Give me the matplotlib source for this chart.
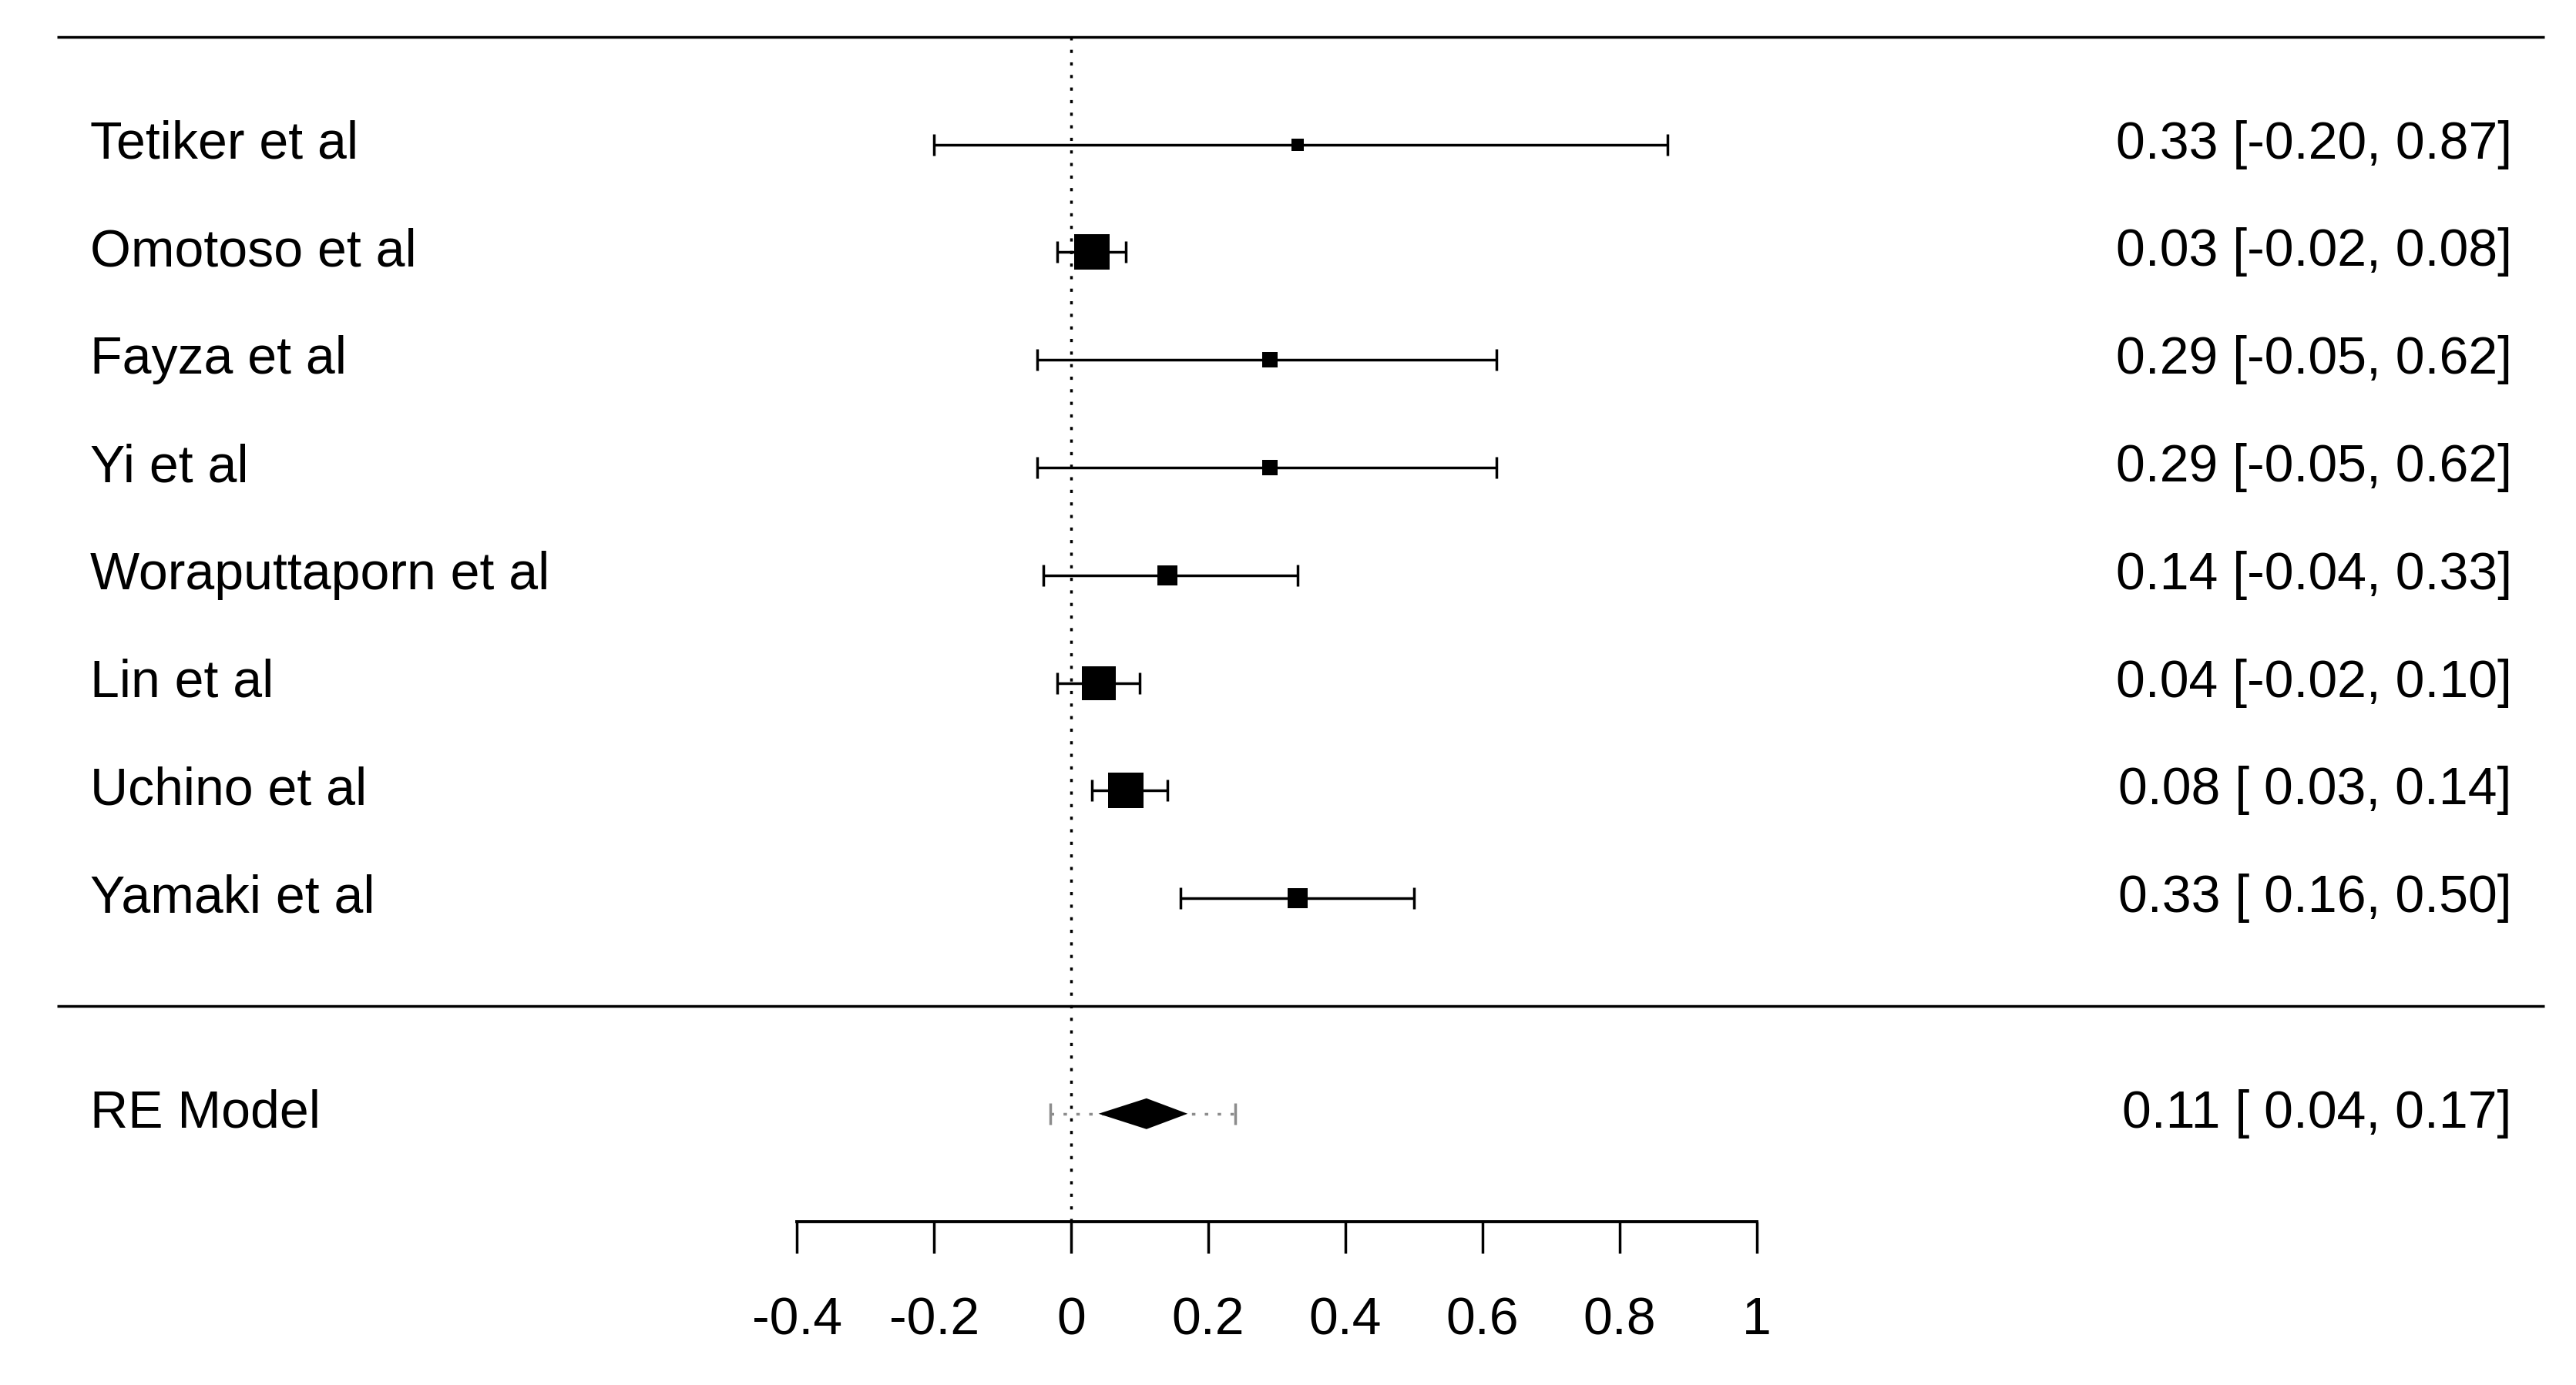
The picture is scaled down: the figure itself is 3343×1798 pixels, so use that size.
"""
Forest plot: random-effects meta-analysis, eight studies.
"""
import numpy as np
import matplotlib.pyplot as plt

plt.rcParams.update({
    'font.family': ['Liberation Sans', 'DejaVu Sans'],
    'font.size': 24.5,
})

# ── data (as printed on the plot) ───────────────────────────────
studies = ['Tetiker et al', 'Omotoso et al', 'Fayza et al', 'Yi et al',
           'Woraputtaporn et al', 'Lin et al', 'Uchino et al', 'Yamaki et al']
est = [0.33, 0.03, 0.29, 0.29, 0.14, 0.04, 0.08, 0.33]
ci_lb = [-0.20, -0.02, -0.05, -0.05, -0.04, -0.02, 0.03, 0.16]
ci_ub = [0.87, 0.08, 0.62, 0.62, 0.33, 0.10, 0.14, 0.50]
weights = [3.4, 21.5, 6.1, 6.1, 9.7, 21.0, 21.5, 9.7]   # model weights (%)

re_label = 'RE Model'
re_est = 0.11
re_lb = 0.04
re_ub = 0.17
pi_lb = -0.03
pi_ub = 0.24

xticks = [-0.4, -0.2, 0, 0.2, 0.4, 0.6, 0.8, 1]
xtick_labels = ['-0.4', '-0.2', '0', '0.2', '0.4', '0.6', '0.8', '1']

# ── layout ──────────────────────────────────────────────────────
k = len(studies)
rows = np.arange(k, 0, -1)          # 8 .. 1
re_row = -1
X_LABEL = -1.431
X_ANNOT = 2.102
X_LINE = (-1.479, 2.150)
PX_PER_PT = 200 / 72
LW = 1.25


def fmt_col(vals):
    s = [f"{v:.2f}" for v in vals]
    w = max(len(t) for t in s)
    return [t.rjust(w) for t in s]


all_est = fmt_col(est + [re_est])
all_lb = fmt_col(ci_lb + [re_lb])
all_ub = fmt_col(ci_ub + [re_ub])
annot = [f"{e} [{l}, {u}]" for e, l, u in zip(all_est, all_lb, all_ub)]

# square size: linear map of weights to [0.5, 1.5] * base size
w = np.array(weights)
psize = 0.5 + (w - w.min()) / (w.max() - w.min())
sq_pt = psize * 30.5 / PX_PER_PT

fig = plt.figure(figsize=(3343 / 200, 1798 / 200), dpi=200)
ax = fig.add_axes([0, 0, 1, 1])
ax.set_xlim(-1.5627, 2.1956)
ax.set_ylim(-3.519, 9.342)

# frame lines
ax.hlines([k + 1, 0], X_LINE[0], X_LINE[1], color='black', lw=LW)
ax.vlines(0, -2, k + 1, color='black', lw=LW, linestyles=[(0, (1.2, 3.5))])

# study CIs
ax.errorbar(est, rows,
            xerr=[np.array(est) - np.array(ci_lb), np.array(ci_ub) - np.array(est)],
            fmt='none', ecolor='black', elinewidth=LW, capsize=5, capthick=LW)
for x, y, s in zip(est, rows, sq_pt):
    ax.plot(x, y, marker='s', markersize=s, color='black', mew=0, zorder=3)

# prediction interval
ax.hlines(re_row, pi_lb, pi_ub, color='#8c8c8c', lw=LW,
          linestyles=[(0, (1.3, 3.5))])
ax.vlines([pi_lb, pi_ub], re_row - 0.1, re_row + 0.1, color='#8c8c8c', lw=LW)

# summary diamond
h = 0.143
ax.fill([re_lb, re_est, re_ub, re_est], [re_row, re_row + h, re_row, re_row - h],
        color='black', lw=0, zorder=3)

# text columns
for y, name in zip(rows, studies):
    ax.text(X_LABEL, y, name, ha='left', va='center')
ax.text(X_LABEL, re_row, re_label, ha='left', va='center')
for y, a in zip(list(rows) + [re_row], annot):
    ax.text(X_ANNOT, y, a, ha='right', va='center')

# x axis
for side in ['top', 'right', 'left']:
    ax.spines[side].set_visible(False)
ax.spines['bottom'].set_position(('data', -2))
ax.spines['bottom'].set_bounds(xticks[0], xticks[-1])
ax.spines['bottom'].set_linewidth(1.4)
ax.set_xticks(xticks)
ax.set_xticklabels(xtick_labels)
ax.tick_params(axis='x', direction='out', length=14.8, width=LW, pad=20)
ax.set_yticks([])
ax.patch.set_visible(False)

fig.savefig('out.png', dpi=200)
